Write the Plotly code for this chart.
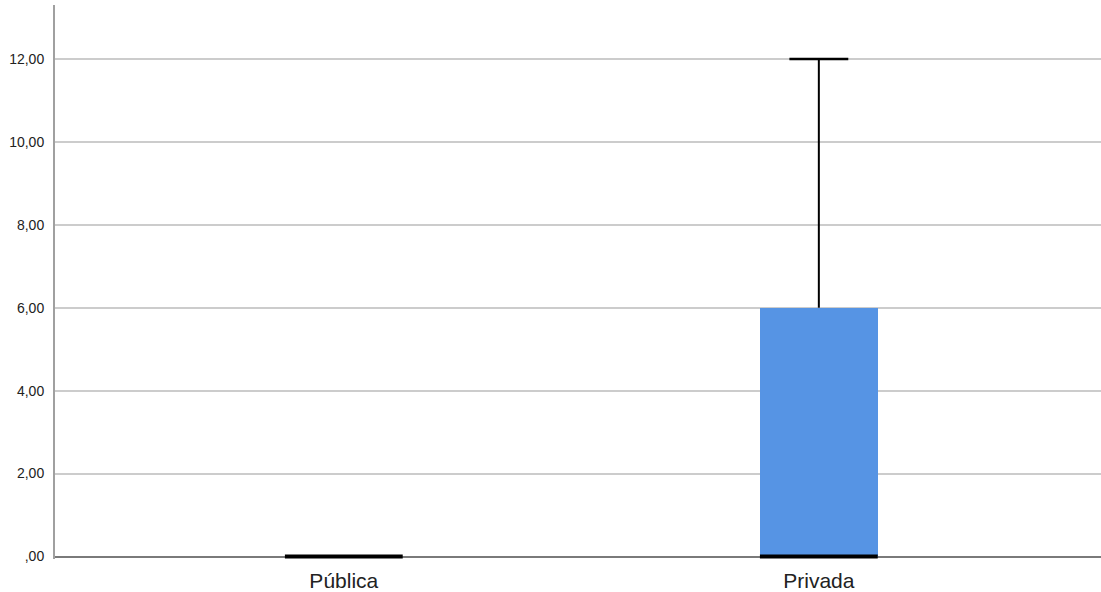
import plotly.graph_objects as go

categories = ["Pública", "Privada"]
q1 = [0, 0]
median = [0, 0]
q3 = [0, 6]
lower_whisker = [0, 0]
upper_whisker = [0, 12]
tick_vals = [0, 2, 4, 6, 8, 10, 12]
tick_text = [",00", "2,00", "4,00", "6,00", "8,00", "10,00", "12,00"]

xpos = list(range(len(categories)))
box_w = 0.248
cap_w = 0.124

fig = go.Figure()

# boxes
fig.add_trace(go.Bar(x=xpos, y=[b - a for a, b in zip(q1, q3)], base=q1, width=box_w,
                     marker=dict(color="#5694E4", line=dict(width=0)), hoverinfo="skip"))

# whiskers and caps
for i in xpos:
    if upper_whisker[i] > q3[i]:
        fig.add_trace(go.Scatter(x=[i, i], y=[q3[i], upper_whisker[i]], mode="lines",
                                 line=dict(color="black", width=2)))
        fig.add_trace(go.Scatter(x=[i - cap_w / 2, i + cap_w / 2], y=[upper_whisker[i]] * 2,
                                 mode="lines", line=dict(color="black", width=2.5)))
    if lower_whisker[i] < q1[i]:
        fig.add_trace(go.Scatter(x=[i, i], y=[lower_whisker[i], q1[i]], mode="lines",
                                 line=dict(color="black", width=2)))
        fig.add_trace(go.Scatter(x=[i - cap_w / 2, i + cap_w / 2], y=[lower_whisker[i]] * 2,
                                 mode="lines", line=dict(color="black", width=2.5)))
    # median
    fig.add_trace(go.Scatter(x=[i - box_w / 2, i + box_w / 2], y=[median[i]] * 2, mode="lines",
                             line=dict(color="black", width=4)))

fig.update_layout(
    width=1101, height=592,
    margin=dict(l=55, r=0, t=5, b=32.5),
    paper_bgcolor="white", plot_bgcolor="white",
    showlegend=False,
    font=dict(family="Liberation Sans, Arial, sans-serif", color="#222222"),
    xaxis=dict(range=[-0.608, 1.594], tickvals=xpos, ticktext=categories,
               showgrid=False, zeroline=False, showline=False,
               ticks="", tickfont=dict(size=21, color="#222222"), ticklabelstandoff=7),
    yaxis=dict(range=[-0.06, 13.3], tickvals=tick_vals, ticktext=tick_text,
               showgrid=True, gridcolor="#cccccc", gridwidth=1.5,
               zeroline=True, zerolinecolor="#7a7a7a", zerolinewidth=1.5,
               showline=True, linecolor="#a0a0a0", linewidth=2, ticks="",
               tickfont=dict(size=14, color="#222222"), ticklabelstandoff=6,
               layer="below traces"),
    bargap=0,
)

fig.write_html("out.html", config={"displayModeBar": False},
               post_script="document.body.style.margin='0px';")
